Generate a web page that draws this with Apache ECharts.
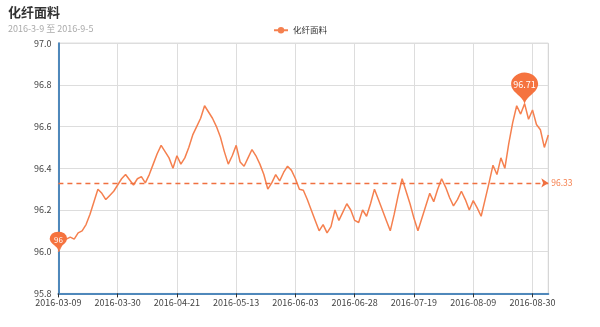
<!DOCTYPE html>
<html>
<head>
<meta charset="utf-8">
<title>化纤面料</title>
<script src="https://cdn.jsdelivr.net/npm/echarts@6/dist/echarts.min.js"></script>
<style>
  html, body { margin: 0; padding: 0; background: #fff; }
  #chart { width: 600px; height: 327px; }
</style>
</head>
<body>
<div id="chart"></div>
<script>
// Trading days, 2016-03-09 .. 2016-09-05
var dates = [
  '2016-03-09','2016-03-10','2016-03-11','2016-03-14','2016-03-15','2016-03-16','2016-03-17','2016-03-18',
  '2016-03-21','2016-03-22','2016-03-23','2016-03-24','2016-03-25','2016-03-28','2016-03-29','2016-03-30','2016-03-31',
  '2016-04-01','2016-04-05','2016-04-06','2016-04-07','2016-04-08','2016-04-11','2016-04-12','2016-04-13','2016-04-14',
  '2016-04-15','2016-04-18','2016-04-19','2016-04-20','2016-04-21','2016-04-22','2016-04-25','2016-04-26','2016-04-27',
  '2016-04-28','2016-04-29',
  '2016-05-03','2016-05-04','2016-05-05','2016-05-06','2016-05-09','2016-05-10','2016-05-11','2016-05-12','2016-05-13',
  '2016-05-16','2016-05-17','2016-05-18','2016-05-19','2016-05-20','2016-05-23','2016-05-24','2016-05-25','2016-05-26',
  '2016-05-27','2016-05-30','2016-05-31',
  '2016-06-01','2016-06-02','2016-06-03','2016-06-06','2016-06-07','2016-06-08','2016-06-13','2016-06-14','2016-06-15',
  '2016-06-16','2016-06-17','2016-06-20','2016-06-21','2016-06-22','2016-06-23','2016-06-24','2016-06-27','2016-06-28',
  '2016-06-29','2016-06-30',
  '2016-07-01','2016-07-04','2016-07-05','2016-07-06','2016-07-07','2016-07-08','2016-07-11','2016-07-12','2016-07-13',
  '2016-07-14','2016-07-15','2016-07-18','2016-07-19','2016-07-20','2016-07-21','2016-07-22','2016-07-25','2016-07-26',
  '2016-07-27','2016-07-28','2016-07-29',
  '2016-08-01','2016-08-02','2016-08-03','2016-08-04','2016-08-05','2016-08-08','2016-08-09','2016-08-10','2016-08-11',
  '2016-08-12','2016-08-15','2016-08-16','2016-08-17','2016-08-18','2016-08-19','2016-08-22','2016-08-23','2016-08-24',
  '2016-08-25','2016-08-26','2016-08-29','2016-08-30','2016-08-31',
  '2016-09-01','2016-09-02','2016-09-05'
];

// Index values for 化纤面料
var fabricIndex = [
  96.00, 96.04, 96.06, 96.07, 96.06, 96.09, 96.10, 96.13, 96.18, 96.24,
  96.30, 96.28, 96.25, 96.27, 96.29, 96.32, 96.35, 96.37, 96.345, 96.32,
  96.35, 96.36, 96.33, 96.37, 96.42, 96.47, 96.51, 96.48, 96.45, 96.40,
  96.46, 96.42, 96.45, 96.50, 96.56, 96.60, 96.64, 96.70, 96.67, 96.64,
  96.60, 96.55, 96.48, 96.42, 96.46, 96.51, 96.43, 96.41, 96.45, 96.49,
  96.46, 96.42, 96.37, 96.30, 96.33, 96.37, 96.34, 96.38, 96.41, 96.39,
  96.35, 96.30, 96.295, 96.25, 96.20, 96.15, 96.10, 96.13, 96.09, 96.12,
  96.20, 96.15, 96.19, 96.23, 96.20, 96.15, 96.14, 96.20, 96.17, 96.23,
  96.30, 96.25, 96.20, 96.15, 96.10, 96.18, 96.27, 96.35, 96.29, 96.23,
  96.16, 96.10, 96.16, 96.22, 96.28, 96.24, 96.30, 96.35, 96.31, 96.26,
  96.22, 96.25, 96.29, 96.25, 96.20, 96.245, 96.21, 96.17, 96.25, 96.33,
  96.415, 96.37, 96.45, 96.40, 96.52, 96.62, 96.70, 96.66, 96.71, 96.635,
  96.68, 96.61, 96.585, 96.50, 96.56
];

var seriesName = '化纤面料';
var subtitle = '2016-3-9 至 2016-9-5';
var yMin = 95.8, yMax = 97.0, yStep = 0.2;

var FONT = '"Noto Sans CJK SC", "Noto Sans", sans-serif';
var LINE_COLOR = '#f5804f';
var PIN_COLOR = '#f5733f';
var AXIS_COLOR = '#4f88bb';

var chart = echarts.init(document.getElementById('chart'), null, { renderer: 'canvas' });

chart.setOption({
  animation: false,
  backgroundColor: '#fff',
  textStyle: { fontFamily: FONT },
  title: {
    text: seriesName,
    subtext: subtitle,
    left: 3,
    top: 1,
    itemGap: 5,
    textStyle: { fontSize: 13, fontWeight: 'bold', color: '#333', fontFamily: FONT },
    subtextStyle: { fontSize: 9, color: '#aaa', fontFamily: FONT }
  },
  legend: {
    data: [seriesName],
    left: 'center',
    top: 23,
    padding: 3,
    itemWidth: 14,
    itemHeight: 8,
    textStyle: { fontSize: 8.5, color: '#333', fontFamily: FONT }
  },
  grid: {
    left: 58.4,
    right: 51.7,
    top: 43.2,
    bottom: 33.6,
    show: true,
    borderColor: '#ccc',
    borderWidth: 1,
    outerBoundsMode: 'none'
  },
  xAxis: {
    type: 'category',
    data: dates,
    boundaryGap: false,
    axisLine: { lineStyle: { color: AXIS_COLOR, width: 2 } },
    axisTick: { show: true, interval: 14, length: 4, lineStyle: { color: '#333' } },
    axisLabel: { interval: 14, fontSize: 9, color: '#444', margin: 5, fontFamily: FONT },
    splitLine: { show: true, interval: 14, lineStyle: { color: '#ddd', width: 1 } }
  },
  yAxis: {
    type: 'value',
    min: yMin,
    max: yMax,
    interval: yStep,
    axisLine: { show: true, lineStyle: { color: AXIS_COLOR, width: 2 } },
    axisTick: { show: false },
    axisLabel: {
      fontSize: 9, color: '#444', margin: 7, fontFamily: FONT,
      formatter: function (v) { return v.toFixed(1); }
    },
    splitLine: { show: true, lineStyle: { color: '#ddd', width: 1 } }
  },
  series: [{
    name: seriesName,
    type: 'line',
    data: fabricIndex,
    symbol: 'circle',
    symbolSize: 5,
    showSymbol: false,
    itemStyle: { color: LINE_COLOR },
    lineStyle: { color: LINE_COLOR, width: 1.5 },
    markPoint: {
      symbol: 'pin',
      itemStyle: { color: PIN_COLOR },
      label: { color: '#fff', fontFamily: FONT },
      data: [
        { type: 'max', name: '最大值', symbolSize: [45, 38], symbolOffset: [0, 2], label: { fontSize: 9, offset: [0, -1] } },
        { type: 'min', name: '最小值', symbolSize: [29, 23], label: { fontSize: 8, offset: [0, 0] } }
      ]
    },
    markLine: {
      silent: true,
      symbol: ['none', 'arrow'],
      symbolSize: 7,
      itemStyle: { color: '#f07040' },
      lineStyle: { color: '#f07040', type: [5, 4], width: 1.3, opacity: 1 },
      label: {
        position: 'end',
        color: LINE_COLOR,
        fontSize: 8.5,
        distance: 3,
        fontFamily: FONT,
        formatter: function (p) { return Number(p.value).toFixed(2); }
      },
      data: [{
        type: 'average',
        name: '平均值',
        lineStyle: { color: '#f07040', type: [5, 4], width: 1.3 }
      }]
    }
  }]
});
</script>
</body>
</html>
